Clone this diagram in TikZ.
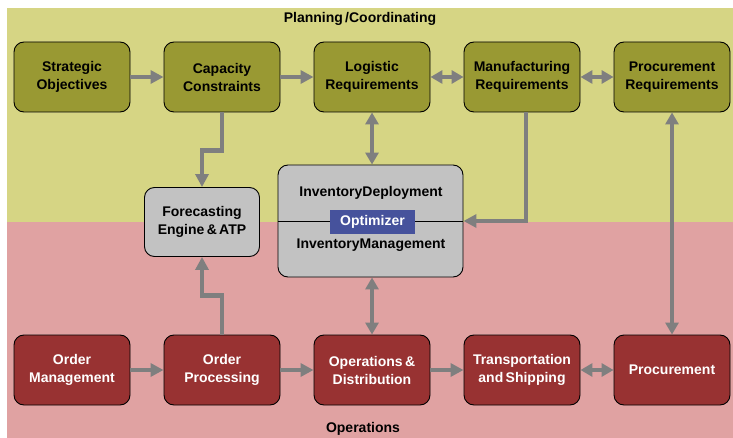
\documentclass[tikz,border=0pt]{standalone}
\usepackage{fontspec}
\setmainfont{Liberation Sans}
\usetikzlibrary{arrows.meta,calc}
\definecolor{bgyellow}{HTML}{D6D584}
\definecolor{bgpink}{HTML}{E0A2A2}
\definecolor{olivebox}{HTML}{999933}
\definecolor{redbox}{HTML}{983232}
\definecolor{greybox}{HTML}{C2C2C2}
\definecolor{optblue}{HTML}{46529C}
\definecolor{arrgrey}{HTML}{7F7F7F}
\tikzset{
  basebox/.style={draw=black, line width=0.9pt, rounded corners=10pt, inner sep=0pt,
    align=center, font=\fontsize{14}{18}\selectfont\bfseries},
  planbox/.style={basebox, fill=olivebox, text=black, minimum width=116pt, minimum height=70pt},
  opbox/.style={basebox, fill=redbox, text=white, minimum width=116pt, minimum height=70pt},
  greyb/.style={basebox, fill=greybox, text=black},
  arr/.style={draw=arrgrey, line width=4.5pt, -{Triangle[length=13pt,width=13pt]}, shorten >=0pt},
  darr/.style={draw=arrgrey, line width=4.5pt, {Triangle[length=12pt,width=13pt]}-{Triangle[length=12pt,width=13pt]}},
  lbl/.style={font=\fontsize{14}{16}\selectfont\bfseries, text=black, inner sep=0pt},
  intext/.style={font=\fontsize{14}{16}\selectfont\bfseries, text=black, inner sep=0pt}
}
\begin{document}
\begin{tikzpicture}[x=1pt,y=-1pt]
\useasboundingbox (0,0) rectangle (733,438);
\fill[white] (0,0) rectangle (733,438);
\fill[bgyellow] (7,8) rectangle (733,222);
\fill[bgpink] (7,222) rectangle (733,438);

\node[lbl] (title) at (360,19) {Planning\,/Coordinating};
\node[lbl] (opstitle) at (363,428.5) {Operations};

% top row
\node[planbox] (so) at (72,77) {Strategic\\Objectives};
\node[planbox] (cc) at (222,77) {Capacity\\Constraints};
\node[planbox] (lr) at (372,77) {Logistic\\Requirements};
\node[planbox] (mr) at (522,77) {Manufacturing\\Requirements};
\node[planbox] (pr) at (672,77) {Procurement\\Requirements};

% bottom row
\node[opbox] (om) at (72,370) {Order\\Management};
\node[opbox] (op) at (222,370) {Order\\Processing};
\node[opbox] (od) at (372,370) {Operations\,\&\\Distribution};
\node[opbox] (ts) at (522,370) {Transportation\\and\,Shipping};
\node[opbox] (pc) at (672,370) {Procurement};

% middle
\node[greyb, minimum width=115pt, minimum height=69pt] (fc) at (202,222) {Forecasting\\Engine\,\&\,ATP};
\node[greyb, minimum width=185pt, minimum height=112pt] (inv) at (370.5,221) {};
\draw[black, line width=0.8pt] (inv.west) -- (inv.east);
\node[intext] (invdep) at (371,193) {InventoryDeployment};
\node[fill=optblue, minimum width=85pt, minimum height=24pt, inner sep=0pt,
      text=white, font=\fontsize{14}{16}\selectfont\bfseries] (opt) at (372.5,222) {Optimizer};
\node[intext] (invman) at (371,245) {InventoryManagement};

% connectors top
\draw[arr] (so) -- (cc);
\draw[arr] (cc) -- (lr);
\draw[darr] (lr) -- (mr);
\draw[darr] (mr) -- (pr);
\draw[arr] (cc.south) -- ++(0,38) -| (fc.north);
\draw[darr] (lr.south) -- (lr.south |- inv.north);
\draw[arr] ([xshift=4pt]mr.south) |- (inv.east);
\draw[darr] (pr.south) -- (pc.north);

% connectors bottom
\draw[arr] (om) -- (op);
\draw[arr] (op) -- (od);
\draw[arr] (od) -- (ts);
\draw[darr] (ts) -- (pc);
\draw[arr] (op.north) -- ++(0,-39) -| (fc.south);
\draw[darr] (od.north |- inv.south) -- (od.north);
\end{tikzpicture}
\end{document}
